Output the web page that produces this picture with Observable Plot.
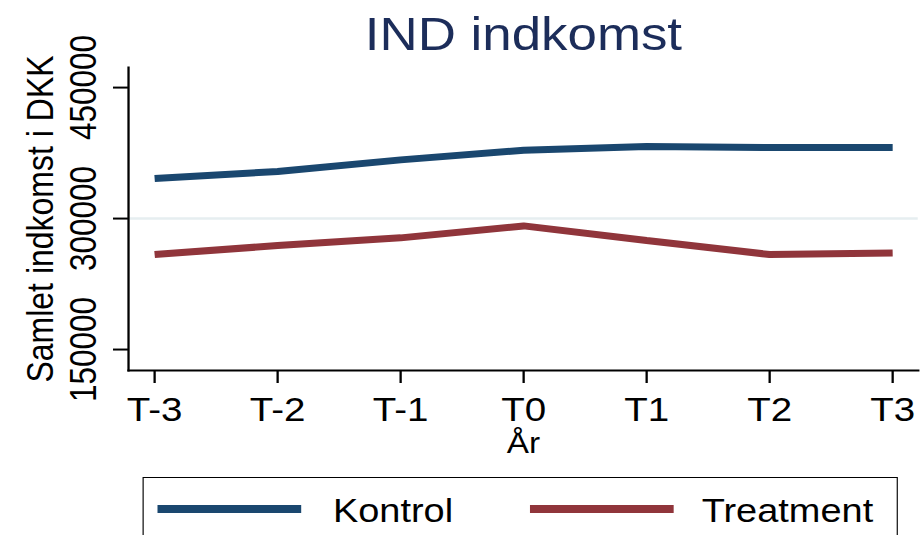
<!DOCTYPE html>
<html>
<head>
<meta charset="utf-8">
<script src="https://cdn.jsdelivr.net/npm/d3@7"></script>
<script src="https://cdn.jsdelivr.net/npm/@observablehq/plot@0.6"></script>
<style>
  html, body { margin: 0; padding: 0; background: #fff; overflow: hidden; }
  body { width: 922px; height: 535px; position: relative; font-family: "Liberation Sans", Arial, sans-serif; }
  #stage { position: absolute; left: 0; top: 0; width: 802px; height: 535px; transform: scaleX(1.1496); transform-origin: 0 0; }
  #chart { position: absolute; left: 0; top: 0; }
  .legend-box { position: absolute; left: 123.5px; top: 477px; width: 657px; height: 120px; border: 1.6px solid #000; box-sizing: border-box; }
  .legend-swatch { position: absolute; height: 7.5px; width: 125px; top: 505.3px; }
  .legend-label { position: absolute; font-size: 33px; line-height: 1; top: 494px; color: #000; white-space: nowrap; }
</style>
</head>
<body>
<div id="stage">
  <div id="chart"></div>
  <div class="legend-box"></div>
  <div class="legend-swatch" id="sw0" style="left:137.4px"></div>
  <div class="legend-label" id="lb0" style="left:289.6px"></div>
  <div class="legend-swatch" id="sw1" style="left:460.9px"></div>
  <div class="legend-label" id="lb1" style="left:610.4px"></div>
</div>
<script>
// ---- data ----
const categories = ["T-3", "T-2", "T-1", "T0", "T1", "T2", "T3"];
const seriesNames = ["Kontrol", "Treatment"];
const kontrol = [345800, 354000, 367200, 378200, 382400, 381300, 381300];
const treatment = [258800, 269100, 277900, 291600, 274800, 258800, 260700];
const yTicks = [150000, 300000, 450000];
const titleText = "IND indkomst";
const yLabel = "Samlet indkomst i DKK";
const xLabel = "År";

const colors = ["#1a476f", "#90353b"];
const rows = [];
categories.forEach((c, i) => {
  rows.push({x: c, y: kontrol[i], s: seriesNames[0]});
  rows.push({x: c, y: treatment[i], s: seriesNames[1]});
});

const chart = Plot.plot({
  width: 802,
  height: 535,
  marginLeft: 111.3,
  marginRight: 3.7,
  marginTop: 67,
  marginBottom: 165,
  style: {fontFamily: "'Liberation Sans', Arial, sans-serif", color: "#000", background: "transparent", overflow: "visible"},
  x: {type: "point", domain: categories, padding: 0.2, label: null},
  y: {domain: [126000, 473000], label: null},
  color: {domain: seriesNames, range: colors},
  marks: [
    Plot.ruleY([300000], {stroke: "#e6eef0", strokeWidth: 2.5}),
    Plot.frame({anchor: "left", stroke: "#000", strokeWidth: 2}),
    Plot.frame({anchor: "bottom", stroke: "#000", strokeWidth: 2}),
    Plot.axisX({tickSize: 13, tickPadding: 14, fontSize: 33.5, strokeWidth: 2, label: null}),
    Plot.axisY(yTicks, {tickSize: 13, fill: "none", strokeWidth: 2, label: null}),
    Plot.text(yTicks, {y: d => d, text: d => String(d), frameAnchor: "left", dx: -28.7, rotate: -90,
      textAnchor: "middle", lineAnchor: "bottom", fontSize: 31.5, fill: "#000"}),
    Plot.text([yLabel], {text: d => d, frameAnchor: "left", dx: -65.3, rotate: -90,
      textAnchor: "middle", lineAnchor: "bottom", fontSize: 32, fill: "#000"}),
    Plot.text([xLabel], {text: d => d, frameAnchor: "bottom", dy: 82, lineAnchor: "bottom", fontSize: 29, fill: "#000"}),
    Plot.text([titleText], {text: d => d, frameAnchor: "top", dy: -18, lineAnchor: "bottom", fontSize: 46, fill: "#1c2d5a"}),
    Plot.line(rows, {x: "x", y: "y", z: "s", stroke: "s", strokeWidth: 7, strokeLinejoin: "miter", strokeLinecap: "butt"})
  ]
});
document.getElementById("chart").appendChild(chart);

seriesNames.forEach((name, i) => {
  document.getElementById("sw" + i).style.background = colors[i];
  document.getElementById("lb" + i).textContent = name;
});
</script>
</body>
</html>
